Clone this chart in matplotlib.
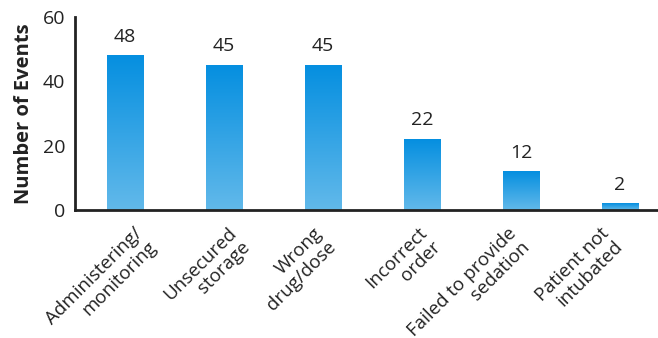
import numpy as np
import matplotlib
matplotlib.use("Agg")
import matplotlib.pyplot as plt
from matplotlib.colors import LinearSegmentedColormap
import matplotlib.transforms as mtransforms

categories = ['Administering/\nmonitoring', 'Unsecured\nstorage', 'Wrong\ndrug/dose',
              'Incorrect\norder', 'Failed to provide\nsedation', 'Patient not\nintubated']
events = [48, 45, 45, 22, 12, 2]

# horizontal nudge of each rotated label (pixels), as placed in the original
label_dx = [8, 3, -10, -4, -14, -20]

plt.rcParams['font.family'] = ['Open Sans', 'DejaVu Sans']

fig = plt.figure(figsize=(6.58, 3.38), dpi=100)
ax = fig.add_axes([0.114, 0.379, 0.886, 0.571])

x = np.arange(len(categories))
bars = ax.bar(x, events, width=0.364, color='none', edgecolor='none')

# vertical gradient, dark blue at top, light blue at bottom
cmap = LinearSegmentedColormap.from_list('blues', ['#62b9ea', '#058fe0'])
grad = np.linspace(0, 1, 256).reshape(-1, 1)
for b in bars:
    x0, y0 = b.get_x(), b.get_y()
    w, h = b.get_width(), b.get_height()
    im = ax.imshow(grad, extent=[x0, x0 + w, y0, y0 + h], origin='lower',
                   cmap=cmap, aspect='auto', zorder=2)
    im.set_clip_path(b)

for xi, v in zip(x, events):
    ax.annotate(str(v), (xi, v), xytext=(0, 7), textcoords='offset points',
                ha='center', va='bottom', fontsize=14, color='#222222')

ax.set_xlim(-0.505, 5.384)
ax.set_ylim(0, 60)
ax.set_yticks([0, 20, 40, 60])
ax.tick_params(axis='y', length=0, labelsize=14, labelcolor='#222222', pad=7)
ax.tick_params(axis='x', length=0, pad=0)
ax.set_xticks(x)
ax.set_xticklabels(categories, rotation=45, ha='right', va='top',
                   rotation_mode='anchor', multialignment='right',
                   fontsize=13.5, color='#222222', linespacing=1.1)
for lbl, dx in zip(ax.get_xticklabels(), label_dx):
    offset = mtransforms.ScaledTranslation(dx / 100, -14 / 100, fig.dpi_scale_trans)
    lbl.set_transform(lbl.get_transform() + offset)

ax.set_ylabel('Number of Events', fontsize=14.5, fontweight='bold', color='#222222', labelpad=6)
for s in ['top', 'right']:
    ax.spines[s].set_visible(False)
for s in ['left', 'bottom']:
    ax.spines[s].set_linewidth(2)
    ax.spines[s].set_color('#222222')

plt.savefig('out.png', dpi=100)
plt.close()
